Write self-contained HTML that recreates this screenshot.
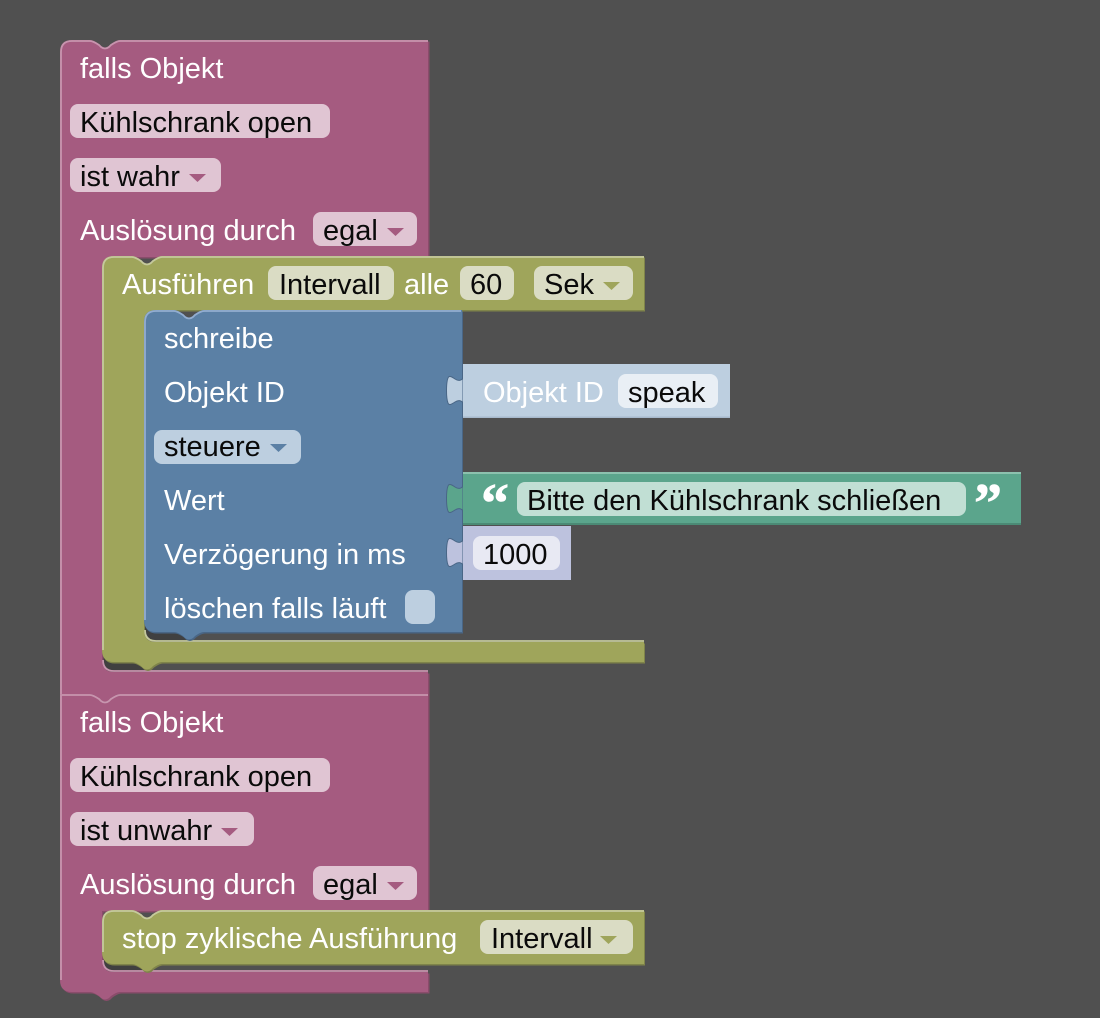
<!DOCTYPE html>
<html><head><meta charset="utf-8"><style>
html,body{margin:0;padding:0;background:#505050}
svg{display:block}
text{font-family:"Liberation Sans",sans-serif;font-size:29px}
.w{fill:#fff}.b{fill:#0a0a0a}
.q{font-family:"Liberation Serif",serif;font-weight:bold;font-size:56px;fill:#fff;stroke:#fff;stroke-width:.6px}
</style></head><body>
<svg width="1100" height="1018" viewBox="0 0 1100 1018" xmlns="http://www.w3.org/2000/svg">
<defs>
<path id="p1" d="M60,52Q60,40 72,40H90C93,40 96,42 99,44L101,46Q105,49 109,46L111,44C114,42 117,40 120,40H428V257H114Q102,257 102,269V660Q102,672 114,672H428V694H120C117,694 114,696 111,698L109,700Q105,703 101,700L99,698C96,696 93,694 90,694H60Z"/>
<path id="p2" d="M60,694H90C93,694 96,696 99,698L101,700Q105,703 109,700L111,698C114,696 117,694 120,694H428V911H102V960Q102,972 114,972H428V992H120C117,992 114,994 111,996L109,998Q105,1001 101,998L99,996C96,994 93,992 90,992H72Q60,992 60,980Z"/>
<path id="g1" d="M102,268Q102,256 114,256H132C135,256 138,258 141,260L143,262Q147,265 151,262L153,260C156,258 159,256 162,256H644V310H156Q144,310 144,322V630Q144,642 156,642H644V662H162C159,662 156,664 153,666L151,668Q147,671 143,668L141,666C138,664 135,662 132,662H114Q102,662 102,650Z"/>
<path id="g2" d="M102,922Q102,910 114,910H132C135,910 138,912 141,914L143,916Q147,919 151,916L153,914C156,912 159,910 162,910H644V964H162C159,964 156,966 153,968L151,970Q147,973 143,970L141,968C138,966 135,964 132,964H114Q102,964 102,952Z"/>
<path id="bl" d="M144,322Q144,310 156,310H174C177,310 180,312 183,314L185,316Q189,319 193,316L195,314C198,312 201,310 204,310H462V632H204C201,632 198,634 195,636L193,638Q189,641 185,638L183,636C180,634 177,632 174,632H156Q144,632 144,620Z"/>
<path id="tab" d="M463,14C461,17 458,17 455,15C452,13 449,11 448,14C446,19 446,34 448,39C449,42 452,40 455,38C458,36 461,36 463,39Z"/>
</defs>
<rect width="1100" height="1018" fill="#505050"/>

<!-- cavity shadows -->
<path d="M99,640V664Q100,675 114,675H150V660H110V640Z" fill="#404040"/>
<path d="M141,610V634Q142,645 156,645H190V630H150V610Z" fill="#404040"/>
<path d="M99,945Q100,975 114,975H150V958H110Z" fill="#404040"/>

<!-- pink 1 -->
<use href="#p1" fill="#8a4c6b" transform="translate(1.5,1.5)"/>
<use href="#p1" fill="#a55b80"/>
<path d="M61,694V52Q61,41 72,41H90C93,41 96,43 99,45L101,47Q105,50 109,47L111,45C114,43 117,41 120,41H428M103,660Q103,671 114,671H428" fill="none" stroke="#c795ae" stroke-width="1.8"/>

<!-- pink 2 -->
<use href="#p2" fill="#8a4c6b" transform="translate(1.5,1.5)"/>
<use href="#p2" fill="#a55b80"/>
<path d="M61,980V695H90C93,695 96,697 99,699L101,701Q105,704 109,701L111,699C114,697 117,695 120,695H428M103,960Q103,971 114,971H428" fill="none" stroke="#c795ae" stroke-width="1.8"/>

<!-- green 1 -->
<use href="#g1" fill="#7f844a" transform="translate(1,1.5)"/>
<use href="#g1" fill="#9fa55b"/>
<path d="M103,650V268Q103,257 114,257H132C135,257 138,259 141,261L143,263Q147,266 151,263L153,261C156,259 159,257 162,257H644M145,630Q145,641 156,641H644" fill="none" stroke="#c5c99d" stroke-width="1.8"/>

<!-- blue -->
<use href="#bl" fill="#496686" transform="translate(1,1.5)"/>
<use href="#bl" fill="#5b80a5"/>
<path d="M145,620V322Q145,311 156,311H174C177,311 180,313 183,315L185,317Q189,320 193,317L195,315C198,313 201,311 204,311H461" fill="none" stroke="#93add0" stroke-width="1.8"/>

<!-- value: Objekt ID -->
<use href="#tab" y="364" fill="#bdcfe0" stroke="#496686" stroke-width="1"/>
<rect x="463" y="364" width="267" height="54" fill="#bdcfe0"/>
<rect x="463" y="416.500" width="267" height="1.500" fill="#a7b9cc"/>
<!-- value: text -->
<use href="#tab" y="472" fill="#5ba58c" stroke="#496686" stroke-width="1"/>
<rect x="463" y="472" width="558" height="53" fill="#5ba58c"/>
<rect x="463" y="472" width="558" height="2" fill="#8cc1ae"/>
<rect x="463" y="523" width="558" height="2" fill="#4b8a75"/>
<!-- value: number -->
<use href="#tab" y="526" fill="#bdc2de" stroke="#496686" stroke-width="1"/>
<rect x="463" y="526" width="108" height="54" fill="#bdc2de"/>

<!-- green 2 -->
<use href="#g2" fill="#7f844a" transform="translate(1,1.5)"/>
<use href="#g2" fill="#9fa55b"/>
<path d="M103,952V922Q103,911 114,911H132C135,911 138,913 141,915L143,917Q147,920 151,917L153,915C156,913 159,911 162,911H644" fill="none" stroke="#c5c99d" stroke-width="1.8"/>

<!-- pink fields -->
<g fill="#e0c5d3">
<rect x="70" y="104" width="260" height="34" rx="8"/>
<rect x="70" y="158" width="151" height="34" rx="8"/>
<rect x="313" y="212" width="104" height="34" rx="8"/>
<rect x="70" y="758" width="260" height="34" rx="8"/>
<rect x="70" y="812" width="184" height="34" rx="8"/>
<rect x="313" y="866" width="104" height="34" rx="8"/>
</g>
<g fill="#a55b80">
<path d="M189,174H206L197.500,182Z"/>
<path d="M387,228H404L395.500,236Z"/>
<path d="M221,828H238L229.500,836Z"/>
<path d="M387,882H404L395.500,890Z"/>
</g>
<!-- green fields -->
<g fill="#dadcc4">
<rect x="268" y="266" width="126" height="34" rx="8"/>
<rect x="460" y="266" width="54" height="34" rx="8"/>
<rect x="534" y="266" width="99" height="34" rx="8"/>
<rect x="480" y="920" width="153" height="34" rx="8"/>
</g>
<g fill="#9fa55b">
<path d="M603,282H620L611.500,290Z"/>
<path d="M600,936H617L608.500,944Z"/>
</g>
<!-- blue fields -->
<rect x="154" y="430" width="147" height="34" rx="8" fill="#bdcfe0"/>
<path d="M270,444H287L278.500,452Z" fill="#5b80a5"/>
<rect x="405" y="590" width="30" height="34" rx="8" fill="#bdcfe0"/>
<rect x="618" y="374" width="100" height="34" rx="8" fill="#e9eff5"/>
<rect x="517" y="482" width="449" height="34" rx="8" fill="#c1dfd4"/>
<rect x="473" y="536" width="87" height="34" rx="8" fill="#e8e9f3"/>

<!-- labels -->
<text x="80" y="78" class="w">falls Objekt</text>
<text x="80" y="132" class="b">Kühlschrank open</text>
<text x="80" y="186" class="b">ist wahr</text>
<text x="80" y="240" class="w">Auslösung durch</text>
<text x="323" y="240" class="b">egal</text>
<text x="122" y="294" class="w">Ausführen</text>
<text x="279" y="294" class="b">Intervall</text>
<text x="404" y="294" class="w">alle</text>
<text x="470" y="294" class="b">60</text>
<text x="544" y="294" class="b">Sek</text>
<text x="164" y="348" class="w">schreibe</text>
<text x="164" y="402" class="w">Objekt ID</text>
<text x="483" y="402" class="w">Objekt ID</text>
<text x="628" y="402" class="b">speak</text>
<text x="164" y="456" class="b">steuere</text>
<text x="164" y="510" class="w">Wert</text>
<text x="527" y="510" class="b">Bitte den Kühlschrank schließen</text>
<text x="164" y="564" class="w">Verzögerung in ms</text>
<text x="483" y="564" class="b">1000</text>
<text x="164" y="618" class="w">löschen falls läuft</text>
<text x="481" y="522" class="q">“</text>
<text x="974" y="522" class="q">”</text>
<text x="80" y="732" class="w">falls Objekt</text>
<text x="80" y="786" class="b">Kühlschrank open</text>
<text x="80" y="840" class="b">ist unwahr</text>
<text x="80" y="894" class="w">Auslösung durch</text>
<text x="323" y="894" class="b">egal</text>
<text x="122" y="948" class="w">stop zyklische Ausführung</text>
<text x="491" y="948" class="b">Intervall</text>
</svg>
</body></html>
